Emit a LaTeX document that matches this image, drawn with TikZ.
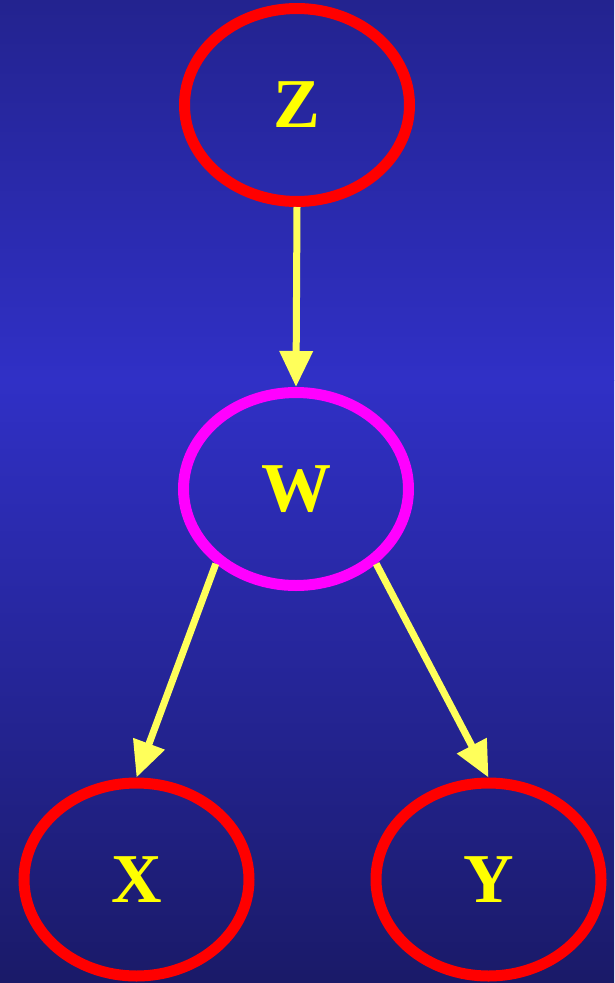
\documentclass[tikz,border=0pt]{standalone}
\usepackage{fontspec}
\setmainfont{Liberation Serif}
\usepackage{tikz}
\usetikzlibrary{arrows.meta,shapes.geometric}
\definecolor{cBgTop}{HTML}{23238F}
\definecolor{cBgMid}{HTML}{3030C6}
\definecolor{cBgBot}{HTML}{1A1A68}
\definecolor{cRing}{HTML}{FF0000}
\definecolor{cHub}{HTML}{FF00FF}
\definecolor{cText}{HTML}{FFFF00}
\definecolor{cArrow}{HTML}{FFFF5A}
\tikzset{
  var/.style={ellipse,draw=#1,line width=11pt,minimum width=225pt,minimum height=193pt,inner sep=0pt,outer sep=5.5pt,
    text=cText,font=\bfseries\fontsize{70}{70}\selectfont},
  var/.default=cRing,
  arr/.style={-{Triangle[length=36pt,width=32pt]},line width=7pt,color=cArrow},
}

\begin{document}
\begin{tikzpicture}[x=1pt,y=-1pt]
    \useasboundingbox (0,0) rectangle (614,983);
    \shade[top color=cBgTop,bottom color=cBgMid] (0,0) rectangle (614,380);
    \shade[top color=cBgMid,bottom color=cBgBot] (0,380) rectangle (614,983);
    \node[var] (z) at (297,105) {Z};
    \node[var=cHub] (w) at (296,489) {W};
    \node[var] (x) at (136.5,879.5) {X};
    \node[var] (y) at (488.5,879.5) {Y};
    \draw[arr] (z.south) -- (w.north);
    \draw[arr] (w.223) -- (x.north);
    \draw[arr] (w.317) -- (y.north);
  \end{tikzpicture}
\end{document}
